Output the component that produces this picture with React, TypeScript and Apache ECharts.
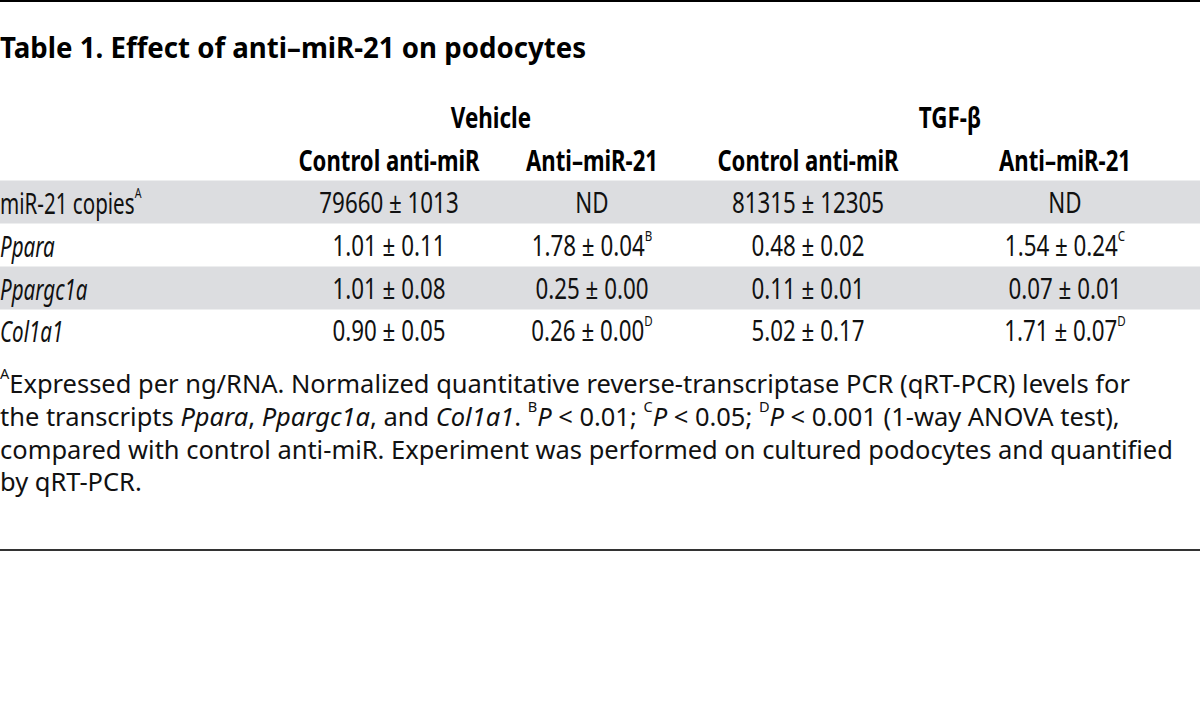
import React, { useEffect, useRef } from "react";
import * as echarts from "echarts";

const title = "Table 1. Effect of anti–miR-21 on podocytes";
const groupHeaders = ["Vehicle", "TGF-β"];
const columnHeaders = ["Control anti-miR", "Anti–miR-21", "Control anti-miR", "Anti–miR-21"];
const rowLabels = ["miR-21 copies", "Ppara", "Ppargc1a", "Col1a1"];
const rowLabelSup = ["A", "", "", ""];
const rowLabelItalic = [false, true, true, true];
const vehicleControl = ["79660 ± 1013", "1.01 ± 0.11", "1.01 ± 0.08", "0.90 ± 0.05"];
const vehicleAnti = ["ND", "1.78 ± 0.04", "0.25 ± 0.00", "0.26 ± 0.00"];
const vehicleAntiSup = ["", "B", "", "D"];
const tgfControl = ["81315 ± 12305", "0.48 ± 0.02", "0.11 ± 0.01", "5.02 ± 0.17"];
const tgfAnti = ["ND", "1.54 ± 0.24", "0.07 ± 0.01", "1.71 ± 0.07"];
const tgfAntiSup = ["", "C", "", "D"];

// footnote lines: [style, text] segments; style n = normal, i = italic, s = superscript
const footnoteLines: [string, string][][] = [
  [["s", "A"], ["n", "Expressed per ng/RNA. Normalized quantitative reverse-transcriptase PCR (qRT-PCR) levels for"]],
  [
    ["n", "the transcripts "], ["i", "Ppara"], ["n", ", "], ["i", "Ppargc1a"], ["n", ", and "], ["i", "Col1a1"],
    ["n", ". "], ["s", "B"], ["i", "P"], ["n", " < 0.01; "], ["s", "C"], ["i", "P"], ["n", " < 0.05; "],
    ["s", "D"], ["i", "P"], ["n", " < 0.001 (1-way ANOVA test),"],
  ],
  [["n", "compared with control anti-miR. Experiment was performed on cultured podocytes and quantified"]],
  [["n", "by qRT-PCR."]],
];

const FONT = "'Noto Sans', 'Open Sans', sans-serif";

export default function App() {
  const ref = useRef<HTMLDivElement>(null);
  useEffect(() => {
    if (!ref.current) return;
    const chart = echarts.init(ref.current, null, { renderer: "svg" });
    const W = 1200;
    const colX = [389, 592, 808, 1065];
    const groupX = [491, 950];
    const rowY = [202, 245, 288, 330];
    const rowH = 43;
    const bodySize = 29;
    const ink = "#111";

    const bodyRich = {
      n: { fontFamily: FONT, fontSize: bodySize, lineHeight: 34, fill: ink },
      i: { fontFamily: FONT, fontSize: bodySize, lineHeight: 34, fontStyle: "italic", fill: ink },
      s: { fontFamily: FONT, fontSize: 15, lineHeight: 20, verticalAlign: "top", fill: ink },
    };

    const els: any[] = [];
    els.push({ type: "rect", shape: { x: 0, y: 0, width: W, height: 2 }, style: { fill: "#000" } });
    els.push({
      type: "text", x: 0, y: 47, scaleX: 0.97,
      style: { text: title, fontFamily: FONT, fontWeight: "bold", fontSize: 28.5, fill: "#000", align: "left", verticalAlign: "middle" },
    });
    groupHeaders.forEach((g, k) => {
      els.push({
        type: "text", x: groupX[k], y: 117, scaleX: 0.8,
        style: { text: g, fontFamily: FONT, fontWeight: "bold", fontSize: 28, fill: "#000", align: "center", verticalAlign: "middle" },
      });
    });
    columnHeaders.forEach((h, k) => {
      els.push({
        type: "text", x: colX[k], y: 160, scaleX: 0.79,
        style: { text: h, fontFamily: FONT, fontWeight: "bold", fontSize: 28, fill: "#000", align: "center", verticalAlign: "middle" },
      });
    });
    rowLabels.forEach((_, r) => {
      if (r % 2 === 0) {
        els.push({ type: "rect", shape: { x: 0, y: rowY[r] - rowH / 2, width: W, height: rowH }, style: { fill: "#dcdde0" } });
      }
    });
    const cell = (x: number, y: number, txt: string, sup: string, italic: boolean, align: string, sx: number) => {
      let t = `{${italic ? "i" : "n"}|${txt}}`;
      if (sup) t += `{s|${sup}}`;
      els.push({
        type: "text", x, y, scaleX: sx,
        style: { text: t, rich: bodyRich, align, verticalAlign: "middle", fontFamily: FONT, fontSize: bodySize },
      });
    };
    rowLabels.forEach((lab, r) => {
      cell(0, rowY[r], lab, rowLabelSup[r], rowLabelItalic[r], "left", 0.71);
      cell(colX[0], rowY[r], vehicleControl[r], "", false, "center", 0.77);
      cell(colX[1], rowY[r], vehicleAnti[r], vehicleAntiSup[r], false, "center", 0.77);
      cell(colX[2], rowY[r], tgfControl[r], "", false, "center", 0.77);
      cell(colX[3], rowY[r], tgfAnti[r], tgfAntiSup[r], false, "center", 0.77);
    });

    const footSize = 24.5;
    const footRich = {
      n: { fontFamily: FONT, fontSize: footSize, lineHeight: 32, fill: ink },
      i: { fontFamily: FONT, fontSize: footSize, lineHeight: 32, fontStyle: "italic", fill: ink },
      s: { fontFamily: FONT, fontSize: 14, lineHeight: 20, verticalAlign: "top", fill: ink },
    };
    const footY = [383, 416, 449, 481];
    footnoteLines.forEach((segs, k) => {
      const t = segs.map(([st, tx]) => `{${st}|${tx}}`).join("");
      els.push({
        type: "text", x: 0, y: footY[k], scaleX: 1.04,
        style: { text: t, rich: footRich, align: "left", verticalAlign: "middle", fontFamily: FONT, fontSize: footSize },
      });
    });
    els.push({ type: "rect", shape: { x: 0, y: 549, width: W, height: 2 }, style: { fill: "#333" } });

    chart.setOption({ animation: false, graphic: { elements: els } });
    return () => chart.dispose();
  }, []);
  return <div ref={ref} style={{ position: "absolute", left: 0, top: 0, width: 1200, height: 705, background: "#fff" }} />;
}
